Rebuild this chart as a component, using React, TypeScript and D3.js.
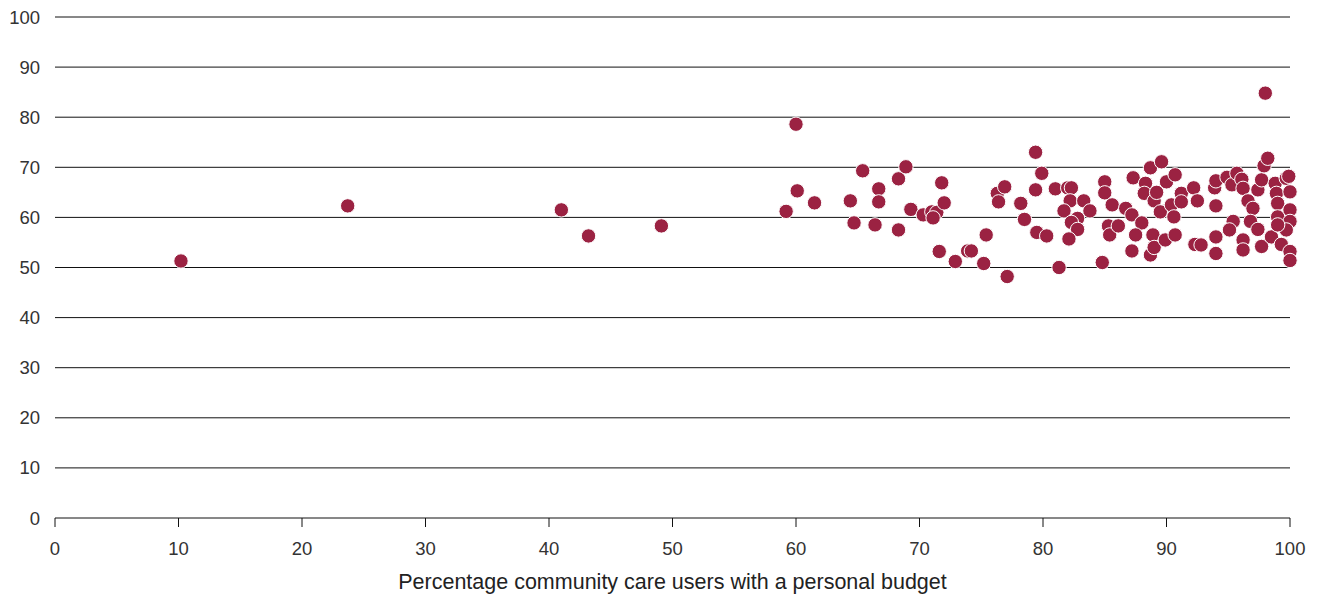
import React from "react";
import * as d3 from "d3";

const xTicks = [0, 10, 20, 30, 40, 50, 60, 70, 80, 90, 100];
const yTicks = [0, 10, 20, 30, 40, 50, 60, 70, 80, 90, 100];
const xTitle = "Percentage community care users with a personal budget";

// percentage of community care users with a personal budget
const budgetPct = [
  10.2, 23.7, 41.0, 43.2, 49.1,
  59.2, 60.0, 60.1, 61.5,
  64.4, 64.7, 65.4, 66.7, 66.7, 66.4,
  68.3, 68.3, 68.9, 69.3,
  70.3, 71.0, 71.4, 71.1, 71.8, 72.0, 71.6, 72.9, 73.9, 74.2, 75.2, 75.4, 77.1,
  76.3, 76.9, 76.4, 78.2, 78.5,
  79.4, 79.9, 79.4, 79.5, 80.3,
  81.0, 81.3, 82.0, 82.3, 82.2, 81.7, 83.3, 83.8, 82.8, 82.3, 82.8, 82.1,
  85.0, 85.0, 85.6, 85.3, 85.4, 86.1, 84.8,
  86.7, 87.2, 87.3, 88.0, 87.5, 87.2,
  88.3, 88.2, 88.7, 89.0, 88.9, 88.7, 89.0, 89.2,
  89.6, 90.0, 89.9, 90.1, 89.5,
  90.7, 91.2, 90.4, 90.6, 91.2,
  92.2, 92.5, 90.7, 92.3, 92.8,
  93.9, 94.0, 94.0, 94.0, 94.0,
  94.9, 95.3, 95.7, 96.1, 96.2, 96.6, 97.0, 95.4, 95.1, 96.2, 96.2, 96.8, 97.4, 97.7, 97.4, 97.7, 97.9, 98.2, 98.0,
  98.8, 98.9, 99.0, 99.0, 98.5, 99.3, 99.7, 99.9, 100, 100, 100, 99.7, 100, 100, 99.0,
];

// outcome score
const score = [
  51.3, 62.3, 61.5, 56.3, 58.3,
  61.2, 78.6, 65.3, 62.9,
  63.3, 58.9, 69.3, 65.7, 63.1, 58.5,
  67.7, 57.5, 70.1, 61.6,
  60.5, 61.1, 61.0, 59.9, 66.9, 62.9, 53.2, 51.2, 53.3, 53.3, 50.8, 56.5, 48.2,
  64.8, 66.1, 63.1, 62.8, 59.6,
  73.0, 68.8, 65.5, 57.0, 56.3,
  65.7, 50.0, 65.9, 65.9, 63.3, 61.3, 63.3, 61.3, 59.8, 59.0, 57.6, 55.7,
  67.1, 64.9, 62.5, 58.3, 56.5, 58.3, 51.0,
  61.8, 60.5, 67.9, 58.9, 56.5, 53.3,
  66.8, 64.8, 69.9, 63.3, 56.5, 52.5, 54.0, 65.0,
  71.1, 67.1, 55.5, 61.5, 61.1,
  68.5, 64.8, 62.5, 60.1, 63.1,
  65.9, 63.3, 56.5, 54.6, 54.5,
  65.9, 67.3, 62.3, 56.1, 52.8,
  68.0, 66.5, 68.8, 67.6, 65.8, 63.3, 61.8, 59.2, 57.5, 55.5, 53.5, 59.2, 57.6, 54.2, 65.5, 67.5, 70.3, 71.8, 84.8,
  66.8, 64.8, 62.8, 60.1, 56.1, 54.6, 67.8, 68.2, 65.1, 61.5, 59.2, 57.5, 53.2, 51.4, 58.5,
];

const W = 1323;
const H = 597;
const left = 55;
const right = 1290;
const top = 17;
const bottom = 518;

export default function App() {
  const x = d3.scaleLinear().domain([0, 100]).range([left, right]);
  const y = d3.scaleLinear().domain([0, 100]).range([bottom, top]);
  const pts = budgetPct.map((v, i) => [v, score[i]] as [number, number]);
  const font = "'Liberation Sans', Arial, Helvetica, sans-serif";

  return (
    <svg
      width={W}
      height={H}
      style={{ position: "fixed", left: 0, top: 0, background: "#fff" }}
      fontFamily={font}
    >
      <g>
        {yTicks.map((t) => (
          <g key={"y" + t}>
            <line x1={left} x2={right} y1={y(t)} y2={y(t)} stroke="#111" strokeWidth={1} />
            <text
              x={40}
              y={y(t)}
              textAnchor="end"
              dominantBaseline="central"
              fontSize={18.5}
              fill="#333"
            >
              {t}
            </text>
          </g>
        ))}
      </g>
      <g>
        {xTicks.map((t) => (
          <g key={"x" + t}>
            <line x1={x(t)} x2={x(t)} y1={bottom} y2={bottom + 9} stroke="#111" strokeWidth={1} />
            <text
              x={x(t)}
              y={548}
              textAnchor="middle"
              dominantBaseline="central"
              fontSize={18.5}
              fill="#333"
            >
              {t}
            </text>
          </g>
        ))}
      </g>
      <text
        x={(left + right) / 2}
        y={582}
        textAnchor="middle"
        dominantBaseline="central"
        fontSize={21.5}
        fill="#222"
      >
        {xTitle}
      </text>
      <g>
        {pts.map((p, i) => (
          <circle
            key={i}
            cx={x(p[0])}
            cy={y(p[1])}
            r={7.2}
            fill="#9b2242"
            stroke="#fff"
            strokeWidth={1}
          />
        ))}
      </g>
    </svg>
  );
}
